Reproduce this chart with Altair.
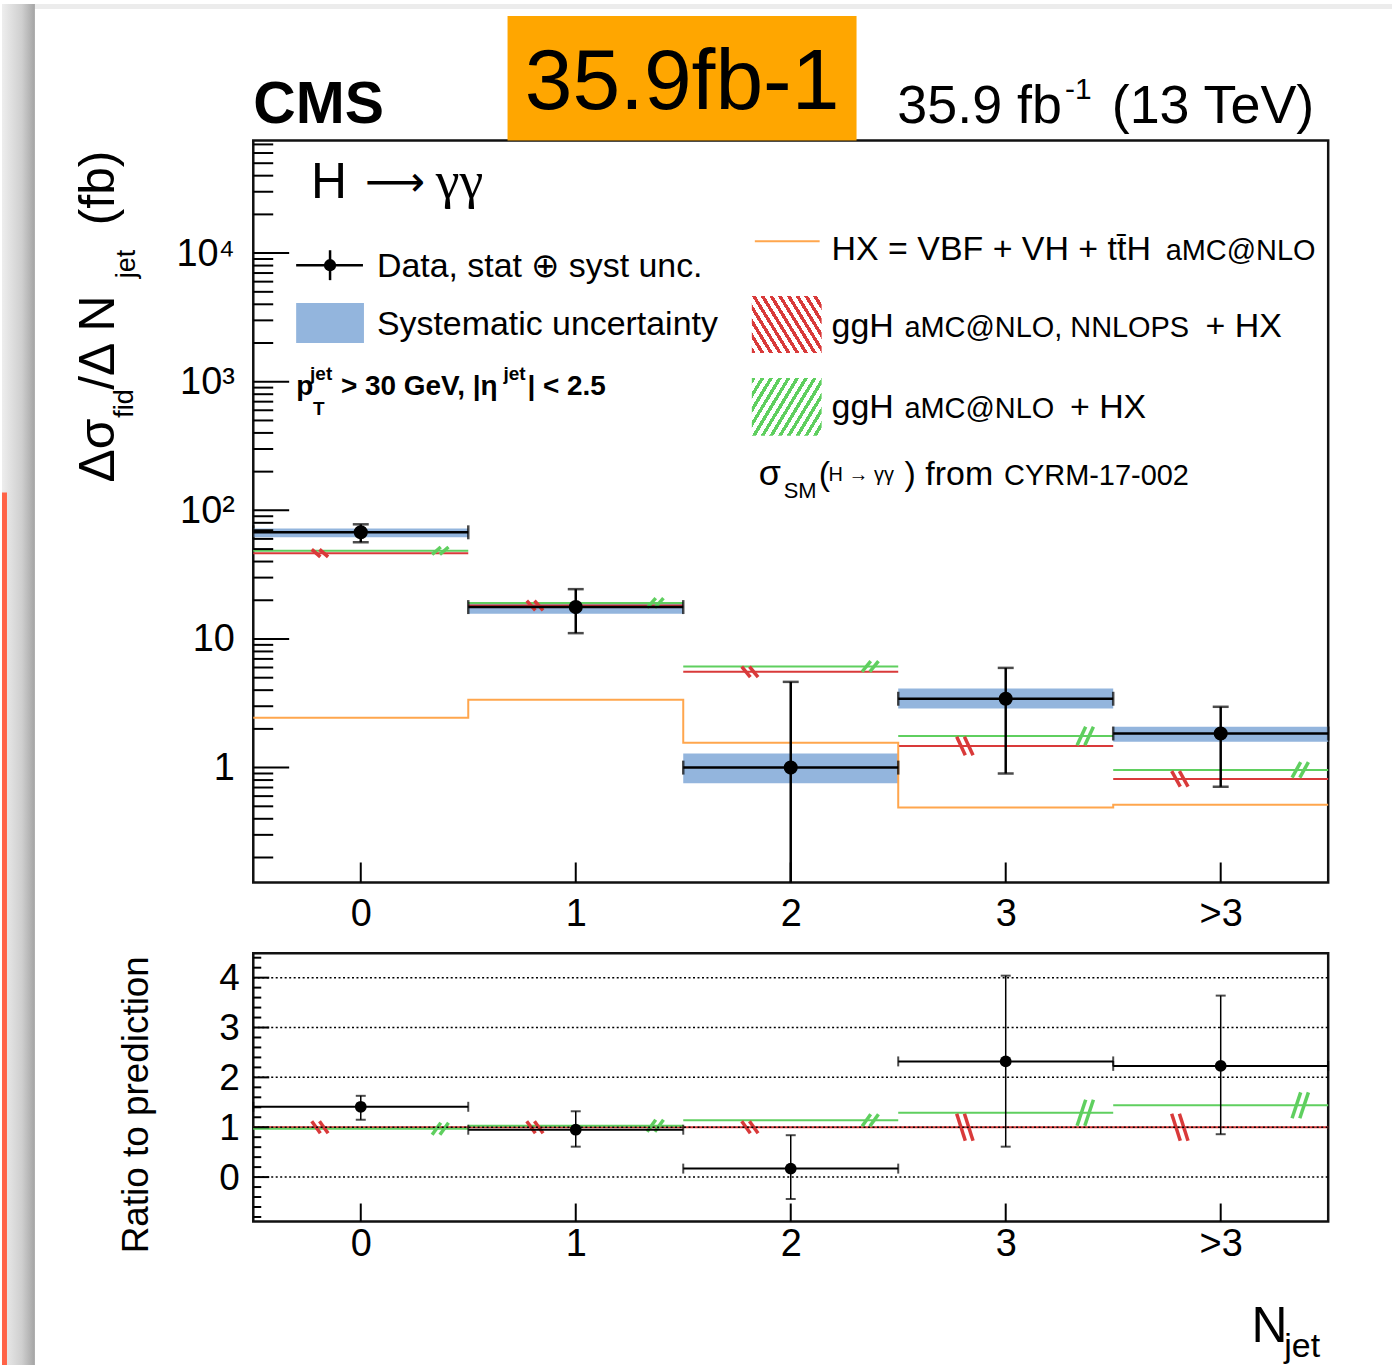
import altair as alt
import pandas as pd

FONT = "Liberation Sans"
W, H1, H2 = 1078, 744, 269

# ---------------- data ----------------
bins = [0, 1, 2, 3, 4]
bin_labels = ["0", "1", "2", "3", ">3"]

# main panel (fb)
data_xs = [67.5, 17.7, 1.0, 3.43, 1.84]
data_hi = [77.9, 24.4, 4.64, 5.96, 2.97]
data_lo = [56.5, 11.1, 0.05, 0.90, 0.71]
syst_lo = [61.7, 15.7, 0.755, 2.88, 1.59]
syst_hi = [72.4, 19.4, 1.29, 4.12, 2.08]
nnlops = [46.5, 18.2, 5.55, 1.47, 0.817]
amcnlo = [48.5, 19.05, 6.12, 1.76, 0.96]
hx = [2.44, 3.37, 1.56, 0.49, 0.514]
nnlops_unc = [1.07, 1.09, 1.10, 1.18, 1.15]
amcnlo_unc = [1.07, 1.09, 1.10, 1.18, 1.15]

# ratio panel
ratio_pts = [1.41, 0.95, 0.17, 2.32, 2.23]
ratio_hi = [1.63, 1.32, 0.84, 4.04, 3.64]
ratio_lo = [1.15, 0.61, -0.44, 0.61, 0.86]
ratio_nnlops = [1.0, 1.0, 1.0, 1.0, 1.0]
ratio_amcnlo = [0.97, 1.03, 1.14, 1.29, 1.44]
ratio_nnlops_unc = [0.12, 0.12, 0.12, 0.27, 0.27]
ratio_amcnlo_unc = [0.12, 0.12, 0.12, 0.26, 0.26]

main_major = [1, 10, 100, 1000, 10000]
main_major_labels = ["1", "10", "10\u00b2", "10\u00b3", "10\u2074"]
ratio_major = [0, 1, 2, 3, 4]

RED = "#d93a3a"
GREEN = "#5fcf5f"
ORANGE = "#ffa64d"
BLUE = "#93b5dd"

# ---------------- scales / axes ----------------
def ternary(values, labels):
    expr = "''"
    for v, l in zip(values, labels):
        expr = f"datum.value == {v} ? '{l}' : ({expr})"
    return expr

x_expr = ternary(bins, bin_labels)
ym_expr = ternary(main_major, main_major_labels)

xs_scale = alt.Scale(domain=[-0.5, 4.5], nice=False, zero=False)
ym_scale = alt.Scale(type="log", domain=[0.128, 75000], nice=False)
yr_scale = alt.Scale(domain=[-0.89, 4.49], nice=False, zero=False)

common_axis = dict(ticks=False, tickSize=0, domain=False, grid=False, labelFont=FONT,
                   labelColor="black", title=None, labelOverlap=False, labelFlush=False)
x_axis_main = alt.Axis(values=bins, labelExpr=x_expr, labelFontSize=38, labelPadding=13, **common_axis)
x_axis_ratio = alt.Axis(values=bins, labelExpr=x_expr, labelFontSize=38, labelPadding=4, **common_axis)
y_axis_main = alt.Axis(values=main_major, labelExpr=ym_expr, labelFontSize=38, labelPadding=19,
                       labelOffset=1, **common_axis)
y_axis_ratio = alt.Axis(values=ratio_major, labelFontSize=37, labelPadding=14, labelOffset=1,
                        format="d", **common_axis)


def XM(f):
    return alt.X(f, type="quantitative", scale=xs_scale, axis=x_axis_main)


def YM(f):
    return alt.Y(f, type="quantitative", scale=ym_scale, axis=y_axis_main)


def XR(f):
    return alt.X(f, type="quantitative", scale=xs_scale, axis=x_axis_ratio)


def YR(f):
    return alt.Y(f, type="quantitative", scale=yr_scale, axis=y_axis_ratio)


one = pd.DataFrame({"a": [0]})


def T(s, x, y, size, align="left", weight="normal", color="black", angle=0, font=FONT):
    return alt.Chart(one).mark_text(text=s, align=align, baseline="alphabetic", fontSize=size,
                                    fontWeight=weight, color=color, angle=angle, font=font
                                    ).encode(x=alt.value(x), y=alt.value(y))


def R(x1, x2, y1, y2, fill):
    return alt.Chart(one).mark_rect(fill=fill, strokeWidth=0).encode(
        x=alt.value(x1), x2=alt.value(x2), y=alt.value(y1), y2=alt.value(y2))


def L(x1, x2, y1, y2, color, width):
    return alt.Chart(one).mark_rule(color=color, strokeWidth=width).encode(
        x=alt.value(x1), x2=alt.value(x2), y=alt.value(y1), y2=alt.value(y2))


def stripes(color, n=12, duty=0.45):
    stops = []
    for i in range(n):
        a, b, c = i / n, (i + duty) / n, (i + 1) / n
        stops += [alt.GradientStop(offset=a, color=color), alt.GradientStop(offset=b, color=color),
                  alt.GradientStop(offset=b, color="white"), alt.GradientStop(offset=c, color="white")]
    return stops


def hatch_df(lo_list, hi_list, off, forward):
    rows = []
    for b, lo, hi in zip(bins, lo_list, hi_list):
        xc = b + off
        for k in (-1, 1):
            xm = xc + k * 0.018
            if forward:
                rows.append(dict(x1=xm - 0.02, x2=xm + 0.02, y1=lo, y2=hi))
            else:
                rows.append(dict(x1=xm - 0.02, x2=xm + 0.02, y1=hi, y2=lo))
    return pd.DataFrame(rows)


edges_lo = [b - 0.5 for b in bins]
edges_hi = [b + 0.5 for b in bins]

# ---------------- main panel ----------------
main = pd.DataFrame(dict(bin=bins, lo=edges_lo, hi=edges_hi, v=data_xs, ehi=data_hi, elo=data_lo,
                         slo=syst_lo, shi=syst_hi, nn=nnlops, amc=amcnlo))
hx_df = pd.DataFrame(dict(edge=edges_lo + [edges_hi[-1]], v=hx + [hx[-1]]))
caps_h = pd.DataFrame(dict(x=edges_lo + edges_hi, y=data_xs + data_xs))
caps_v = pd.DataFrame(dict(x=bins + bins, y=data_hi + data_lo))

nn_h = hatch_df([v / u for v, u in zip(nnlops, nnlops_unc)],
                [v * u for v, u in zip(nnlops, nnlops_unc)], -0.19, False)
amc_h = hatch_df([v / u for v, u in zip(amcnlo, amcnlo_unc)],
                 [v * u for v, u in zip(amcnlo, amcnlo_unc)], 0.37, True)

minor_main = []
for k in range(-1, 5):
    for m in range(2, 10):
        val = m * 10 ** k
        if 0.128 <= val <= 75000:
            minor_main.append(val)

red_hatch_fill = alt.LinearGradient(gradient="linear", x1=0, y1=1, x2=1.2, y2=0.4, stops=stripes(RED))
green_hatch_fill = alt.LinearGradient(gradient="linear", x1=0, y1=0, x2=1.2, y2=0.6, stops=stripes(GREEN))

top_layers = [
    # page decoration
    R(-252, 1142, -137, -132, "#ececec"),
    R(-252, -219, -137, 1228, alt.LinearGradient(gradient="linear", x1=0, y1=0, x2=1, y2=0, stops=[
        alt.GradientStop(offset=0, color="#eeeeee"), alt.GradientStop(offset=0.6, color="#cfcfcf"),
        alt.GradientStop(offset=1, color="#a4a4a4")])),
    R(-252, -247, 353, 1228, "#ff6347"),
    # data
    alt.Chart(main).mark_rect(fill=BLUE).encode(x=XM("lo"), x2="hi", y=YM("slo"), y2="shi"),
    alt.Chart(main).mark_rule(color=RED, strokeWidth=2).encode(x=XM("lo"), x2="hi", y=YM("nn")),
    alt.Chart(main).mark_rule(color=GREEN, strokeWidth=2).encode(x=XM("lo"), x2="hi", y=YM("amc")),
    alt.Chart(hx_df).mark_line(color=ORANGE, strokeWidth=2, interpolate="step-after").encode(
        x=XM("edge"), y=YM("v")),
    alt.Chart(nn_h).mark_rule(color=RED, strokeWidth=3.5).encode(x=XM("x1"), x2="x2", y=YM("y1"), y2="y2"),
    alt.Chart(amc_h).mark_rule(color=GREEN, strokeWidth=3.5).encode(x=XM("x1"), x2="x2", y=YM("y1"), y2="y2"),
    alt.Chart(main).mark_rule(color="black", strokeWidth=2.5).encode(x=XM("lo"), x2="hi", y=YM("v")),
    alt.Chart(caps_h).mark_tick(orient="vertical", color="black", size=14, thickness=2.5).encode(
        x=XM("x"), y=YM("y")),
    alt.Chart(main).mark_rule(color="black", strokeWidth=2.5, clip=True).encode(
        x=XM("bin"), y=YM("elo"), y2="ehi"),
    alt.Chart(caps_v).mark_tick(orient="horizontal", color="black", size=16, thickness=2.5, clip=True).encode(
        x=XM("x"), y=YM("y")),
    alt.Chart(main).mark_circle(size=200, color="black", opacity=1).encode(x=XM("bin"), y=YM("v")),
    # inner ticks
    alt.Chart(pd.DataFrame(dict(t=main_major))).mark_rule(color="black", strokeWidth=2).encode(
        y=YM("t"), x=alt.value(0), x2=alt.value(36)),
    alt.Chart(pd.DataFrame(dict(t=minor_main))).mark_rule(color="black", strokeWidth=2).encode(
        y=YM("t"), x=alt.value(0), x2=alt.value(20)),
    alt.Chart(pd.DataFrame(dict(t=bins))).mark_rule(color="black", strokeWidth=2).encode(
        x=XM("t"), y=alt.value(H1), y2=alt.value(H1 - 20)),
    # titles
    T("CMS", 0, -18, 59, weight="bold"),
    T("35.9 fb", 811, -18, 54, align="right"),
    T("-1", 814, -42, 30),
    T("(13 TeV)", 1064, -18, 54, align="right"),
    T("H", 58, 58, 50),
    T("\u27f6", 112, 56, 42, font="DejaVu Sans"),
    T("\u03b3\u03b3", 183, 58, 54, font="Liberation Serif"),
    # y title (rotated)
    T("\u0394\u03c3", -140, 343, 50, angle=270),
    T("fid", -121, 278, 27, angle=270),
    T("/\u0394 N", -140, 250, 50, angle=270),
    T("jet", -119, 138, 27, angle=270),
    T("(fb)", -140, 85, 50, angle=270),
    # legend left
    L(43, 110, 125, 125, "black", 2.5),
    L(77, 77, 110, 140, "black", 2.5),
    alt.Chart(one).mark_circle(size=150, color="black", opacity=1).encode(x=alt.value(77), y=alt.value(125)),
    T("Data, stat \u2295 syst unc.", 124, 137, 34),
    R(43, 111, 163, 203, BLUE),
    T("Systematic uncertainty", 124, 195, 34),
    T("p", 43, 255, 28, weight="bold"),
    T("jet", 57, 240, 19, weight="bold"),
    T("T", 60, 275, 19, weight="bold"),
    T("> 30 GeV, |\u03b7", 88, 255, 28, weight="bold"),
    T("jet", 251, 240, 19, weight="bold"),
    T("| < 2.5", 275, 255, 28, weight="bold"),
    # legend right
    L(503, 568, 101, 101, ORANGE, 2),
    T("HX = VBF + VH + tt\u0304H", 580, 120, 34),
    T("aMC@NLO", 915, 120, 29),
    R(500, 570, 156, 213, red_hatch_fill),
    T("ggH", 580, 197, 34),
    T("aMC@NLO, NNLOPS", 653, 197, 29),
    T("+ HX", 955, 197, 34),
    R(500, 570, 238, 296, green_hatch_fill),
    T("ggH", 580, 278, 34),
    T("aMC@NLO", 653, 278, 29),
    T("+ HX", 819, 278, 34),
    T("\u03c3", 507, 345, 36),
    T("SM", 532, 358, 22),
    T("(", 567, 345, 34),
    T("H \u2192 \u03b3\u03b3", 577, 341, 20),
    T(")", 653, 345, 34),
    T("from", 674, 345, 34),
    T("CYRM-17-002", 753, 345, 29),
    # orange annotation box
    R(255, 605, -125, 0, "#ffa600"),
    T("35.9fb-1", 430, -32, 86, align="center"),
]

top = alt.layer(*top_layers).properties(width=W, height=H1)

# ---------------- ratio panel ----------------
ratio = pd.DataFrame(dict(bin=bins, lo=edges_lo, hi=edges_hi, v=ratio_pts, ehi=ratio_hi, elo=ratio_lo,
                          nn=ratio_nnlops, amc=ratio_amcnlo))
rcaps_h = pd.DataFrame(dict(x=edges_lo + edges_hi, y=ratio_pts + ratio_pts))
rcaps_v = pd.DataFrame(dict(x=bins + bins, y=ratio_hi + ratio_lo))
rnn_h = hatch_df([v - u for v, u in zip(ratio_nnlops, ratio_nnlops_unc)],
                 [v + u for v, u in zip(ratio_nnlops, ratio_nnlops_unc)], -0.19, False)
ramc_h = hatch_df([v - u for v, u in zip(ratio_amcnlo, ratio_amcnlo_unc)],
                  [v + u for v, u in zip(ratio_amcnlo, ratio_amcnlo_unc)], 0.37, True)
minor_ratio = [round(-0.8 + 0.2 * i, 1) for i in range(27)]
minor_ratio = [m for m in minor_ratio if abs(m - round(m)) > 1e-6 and m <= 4.49]

bottom_layers = [
    alt.Chart(ratio).mark_rule(color=RED, strokeWidth=2).encode(x=XR("lo"), x2="hi", y=YR("nn")),
    alt.Chart(ratio).mark_rule(color=GREEN, strokeWidth=2).encode(x=XR("lo"), x2="hi", y=YR("amc")),
    alt.Chart(rnn_h).mark_rule(color=RED, strokeWidth=3.5).encode(x=XR("x1"), x2="x2", y=YR("y1"), y2="y2"),
    alt.Chart(ramc_h).mark_rule(color=GREEN, strokeWidth=3.5).encode(x=XR("x1"), x2="x2", y=YR("y1"), y2="y2"),
    alt.Chart(pd.DataFrame(dict(g=ratio_major))).mark_rule(color="black", strokeWidth=1.5, strokeDash=[2, 2.5]).encode(
        y=YR("g"), x=alt.value(0), x2=alt.value(W)),
    alt.Chart(ratio).mark_rule(color="black", strokeWidth=2).encode(x=XR("lo"), x2="hi", y=YR("v")),
    alt.Chart(rcaps_h).mark_tick(orient="vertical", color="black", size=10, thickness=2).encode(
        x=XR("x"), y=YR("y")),
    alt.Chart(ratio).mark_rule(color="black", strokeWidth=1.5).encode(x=XR("bin"), y=YR("elo"), y2="ehi"),
    alt.Chart(rcaps_v).mark_tick(orient="horizontal", color="black", size=10, thickness=2).encode(
        x=XR("x"), y=YR("y")),
    alt.Chart(ratio).mark_circle(size=140, color="black", opacity=1).encode(x=XR("bin"), y=YR("v")),
    alt.Chart(pd.DataFrame(dict(t=ratio_major))).mark_rule(color="black", strokeWidth=2).encode(
        y=YR("t"), x=alt.value(0), x2=alt.value(16)),
    alt.Chart(pd.DataFrame(dict(t=minor_ratio))).mark_rule(color="black", strokeWidth=2).encode(
        y=YR("t"), x=alt.value(0), x2=alt.value(8)),
    alt.Chart(pd.DataFrame(dict(t=bins))).mark_rule(color="black", strokeWidth=2).encode(
        x=XR("t"), y=alt.value(H2), y2=alt.value(H2 - 18)),
    T("Ratio to prediction", -106, 301, 37, angle=270),
    T("N", 1001, 390, 50),
    T("jet", 1034, 405, 34),
]

bottom = alt.layer(*bottom_layers).properties(width=W, height=H2)

chart = alt.vconcat(top, bottom, spacing=71, bounds="flush").properties(
    padding=0, background="white").configure_view(stroke="#111111", strokeWidth=2.5)

chart.save("out.html", embed_options={"renderer": "svg", "actions": False})
